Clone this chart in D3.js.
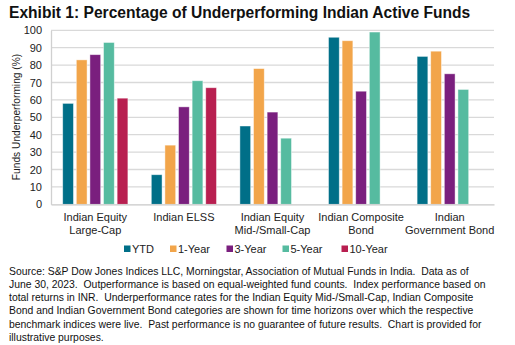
<!DOCTYPE html>
<html><head><meta charset="utf-8">
<script src="https://cdn.jsdelivr.net/npm/d3@7"></script>
<style>body{margin:0;background:#fff}svg{display:block;font-family:"Liberation Sans",Arial,sans-serif}</style>
</head><body><svg id="c" width="515" height="345"></svg>
<script>
const categories = [["Indian Equity","Large-Cap"],["Indian ELSS"],["Indian Equity","Mid-/Small-Cap"],["Indian Composite","Bond"],["Indian","Government Bond"]];
const seriesNames = ["YTD","1-Year","3-Year","5-Year","10-Year"];
const colors = ["#006F88","#F2A54A","#7A1F7E","#56BBA0","#B81F50"];
const ytd = [58,17,45,96,85];
const y1 = [83,34,78,94,88];
const y3 = [86,56,53,65,75];
const y5 = [93,71,38,99,66];
const y10 = [61,67,null,null,null];
const yTicks = [0,10,20,30,40,50,60,70,80,90,100];
const footnote = [
"Source: S&P Dow Jones Indices LLC, Morningstar, Association of Mutual Funds in India.  Data as of",
"June 30, 2023.  Outperformance is based on equal-weighted fund counts.  Index performance based on",
"total returns in INR.  Underperformance rates for the Indian Equity Mid-/Small-Cap, Indian Composite",
"Bond and Indian Government Bond categories are shown for time horizons over which the respective",
"benchmark indices were live.  Past performance is no guarantee of future results.  Chart is provided for",
"illustrative purposes."];
const seriesData = [ytd,y1,y3,y5,y10];

const svg = d3.select("#c");
const L=51,R=494,T=30.3,B=204.3;
const catKeys = categories.map(c=>c.join(" "));
const x0 = d3.scaleBand().domain(catKeys).range([L,R]).padding(0);
const x1 = d3.scaleBand().domain(seriesNames).range([0,x0.bandwidth()]).paddingInner(0.21).paddingOuter(0.86);
const y = d3.scaleLinear().domain([0,100]).range([B,T]);

svg.append("text").attr("x",9).attr("y",18).attr("font-weight","bold").attr("font-size",15.6).attr("fill","#111")
  .text("Exhibit 1: Percentage of Underperforming Indian Active Funds");

// grid
svg.append("g").selectAll("line").data(yTicks.filter(d=>d>0)).join("line")
  .attr("x1",L).attr("x2",R).attr("y1",d=>y(d)).attr("y2",d=>y(d))
  .attr("stroke","#d9d9d9").attr("stroke-width",1.3);
// y axis
const ya = svg.append("g").attr("transform",`translate(${L},0)`).call(d3.axisLeft(y).tickValues(yTicks).tickSize(0).tickPadding(9));
ya.select(".domain").attr("stroke","#d0d0d0").attr("stroke-width",1.3);
ya.selectAll("text").attr("font-size",11).attr("fill","#222").attr("font-family","Liberation Sans, Arial, sans-serif");

// bars
const g = svg.append("g");
categories.forEach((c,i)=>{
  seriesNames.forEach((s,j)=>{
    const v = seriesData[j][i];
    if(v==null) return;
    g.append("rect").attr("x",x0(catKeys[i])+x1(s)).attr("width",x1.bandwidth())
      .attr("y",y(v)).attr("height",y(0)-y(v)).attr("fill",colors[j])
      .attr("stroke","#ffffff").attr("stroke-opacity",0.55).attr("stroke-width",0.8);
  });
});
// x axis
const xa = svg.append("g").attr("transform",`translate(0,${B})`).call(d3.axisBottom(x0).tickSize(0).tickFormat(""));
xa.select(".domain").attr("stroke","#c8c8c8").attr("stroke-width",1.3);
categories.forEach((c,i)=>{
  const cx = x0(catKeys[i])+x0.bandwidth()/2;
  c.forEach((line,k)=>{
    svg.append("text").attr("x",cx).attr("y",221+k*13.4).attr("text-anchor","middle")
      .attr("font-size",11).attr("fill","#222").text(line);
  });
});

// y label
svg.append("text").attr("transform","translate(20,117) rotate(-90)").attr("text-anchor","middle")
  .attr("font-size",10.2).attr("fill","#222").text("Funds Underperforming (%)");

// legend
const legX = [124,170,226.5,282.5,341.5];
seriesNames.forEach((s,j)=>{
  svg.append("rect").attr("x",legX[j]).attr("y",245.5).attr("width",6.5).attr("height",6.5).attr("fill",colors[j]);
  svg.append("text").attr("x",legX[j]+8).attr("y",252.5).attr("font-size",11).attr("fill","#222").text(s);
});

// footnote
footnote.forEach((t,k)=>{
  svg.append("text").attr("x",9).attr("y",274.5+k*13.3).attr("font-size",10.4).attr("fill","#111").attr("xml:space","preserve").style("white-space","pre").text(t);
});
</script></body></html>
